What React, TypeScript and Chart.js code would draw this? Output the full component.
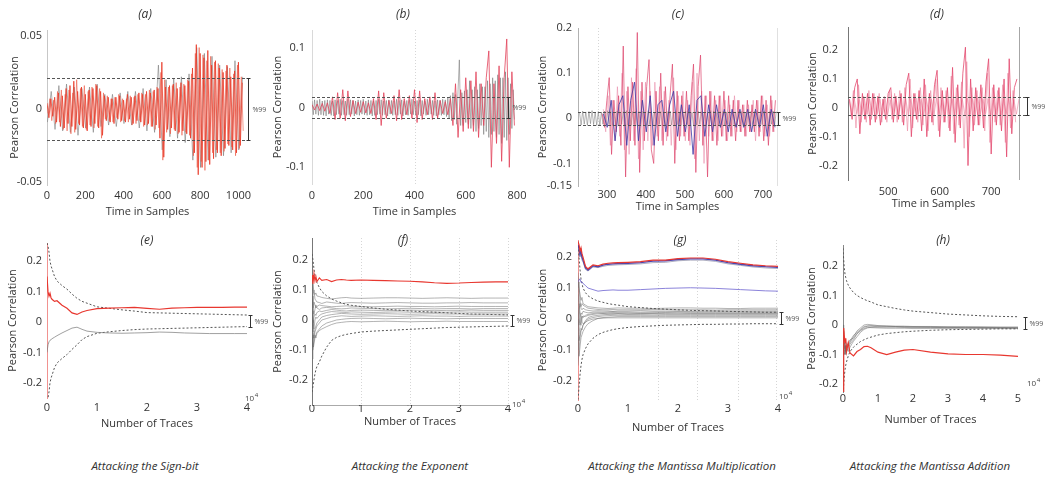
import React, { useEffect, useRef } from "react";
import { Chart, registerables } from "chart.js";

Chart.register(...registerables);
Chart.defaults.font.family = '"Open Sans", "DejaVu Sans", sans-serif';
Chart.defaults.font.size = 11;
Chart.defaults.color = "#333";

// ================= DATA =================
// (a) Sign-bit, time samples
const A_RED_START = 0, A_RED_STEP = 10;
const A_RED = [
  0.004, -0.006, 0.007, -0.005, 0.008, -0.009, 0.011, -0.012, 0.009, -0.013,
  0.014, -0.010, 0.016, -0.012, 0.019, -0.014, 0.012, -0.011, 0.015, -0.013,
  0.010, -0.015, 0.013, -0.012, 0.014, -0.010, 0.016, -0.013, 0.012, -0.018,
  0.009, -0.008, 0.008, -0.009, 0.007, -0.010, 0.008, -0.007, 0.009, -0.008,
  0.006, -0.009, 0.010, -0.007, 0.008, -0.010, 0.009, -0.008, 0.011, -0.009,
  0.010, -0.011, 0.012, -0.010, 0.011, -0.012, 0.013, -0.011, 0.014, -0.020,
  0.032, -0.033, 0.015, -0.014, 0.016, -0.013, 0.017, -0.015, 0.014, -0.016,
  0.018, -0.015, 0.016, -0.017, 0.019, -0.020, 0.028, -0.030, 0.044, -0.045,
  0.038, -0.040, 0.035, -0.036, 0.040, -0.038, 0.030, -0.034, 0.033, -0.030,
  0.028, -0.032, 0.025, -0.027, 0.030, -0.025, 0.022, -0.028, 0.026, -0.030,
  0.032, -0.025, 0.018,
];
const A_RED2_START = 5, A_RED2_STEP = 10;
const A_RED2 = [
  -0.003, 0.007, -0.008, 0.006, -0.010, 0.012, -0.009, 0.013, -0.014, 0.010,
  -0.015, 0.013, -0.017, 0.011, -0.016, 0.020, -0.010, 0.014, -0.012, 0.016,
  -0.014, 0.012, -0.011, 0.015, -0.013, 0.017, -0.012, 0.014, -0.020, 0.011,
  -0.007, 0.009, -0.008, 0.007, -0.009, 0.008, -0.006, 0.010, -0.009, 0.007,
  -0.008, 0.007, -0.009, 0.009, -0.011, 0.008, -0.010, 0.010, -0.008, 0.011,
  -0.012, 0.010, -0.011, 0.013, -0.012, 0.012, -0.014, 0.015, -0.013, 0.025,
  -0.035, 0.020, -0.016, 0.015, -0.017, 0.016, -0.014, 0.018, -0.017, 0.015,
  -0.018, 0.017, -0.016, 0.020, -0.018, 0.024, -0.032, 0.038, -0.040, 0.042,
  -0.036, 0.037, -0.042, 0.033, -0.035, 0.036, -0.030, 0.032, -0.028, 0.031,
  -0.030, 0.027, -0.029, 0.026, -0.024, 0.028, -0.026, 0.024, -0.032, 0.030,
  -0.027, 0.022, -0.015,
];
const A_GRAY_START = 2, A_GRAY_STEP = 20;
const A_GRAY = [
  -0.009, 0.012, -0.014, 0.016, -0.015, 0.017, -0.016, 0.015, -0.018, 0.014,
  -0.013, 0.015, -0.016, 0.017, -0.012, 0.010, -0.011, 0.010, -0.012, 0.011,
  -0.010, 0.012, -0.011, 0.012, -0.013, 0.014, -0.015, 0.014, -0.016, 0.030,
  -0.028, 0.020, -0.019, 0.021, -0.020, 0.022, -0.023, 0.024, -0.035, 0.042,
  -0.040, 0.038, -0.035, 0.036, -0.033, 0.030, -0.032, 0.029, -0.030, 0.033,
  -0.028, 0.022,
];
const A_THRESH = [0.021, -0.021];

// (b) Exponent
const B_RED_START = 0, B_RED_STEP = 10;
const B_RED = [
  0.005, -0.004, 0.006, -0.005, 0.007, -0.006, 0.008, -0.010, 0.018, -0.020,
  0.025, -0.018, 0.030, -0.022, 0.028, -0.015, 0.012, -0.010, 0.009, -0.008,
  0.010, -0.009, 0.008, -0.010, 0.015, -0.020, 0.028, -0.030, 0.025, -0.018,
  0.012, -0.010, 0.020, -0.022, 0.030, -0.020, 0.015, -0.012, 0.020, -0.018,
  0.030, -0.025, 0.028, -0.020, 0.015, -0.012, 0.018, -0.020, 0.025, -0.018,
  0.012, -0.010, 0.010, -0.012, 0.015, -0.030, 0.040, -0.050, 0.030, -0.040,
  0.050, -0.035, 0.045, -0.040, 0.060, -0.050, 0.040, -0.030, 0.050, 0.095,
  -0.100, 0.040, -0.060, 0.070, -0.090, 0.050, 0.115, -0.100, 0.060, -0.030,
];
const B_GRAY_START = 0, B_GRAY_STEP = 5;
const B_GRAY = [
  0.011, -0.012, 0.013, -0.011, 0.012, -0.013, 0.014, -0.012, 0.011, -0.013,
  0.012, -0.014, 0.013, -0.011, 0.012, -0.013, 0.011, -0.014, 0.013, -0.012,
  0.012, -0.011, 0.014, -0.013, 0.012, -0.012, 0.011, -0.013, 0.014, -0.012,
  0.013, -0.011, 0.012, -0.014, 0.011, -0.012, 0.013, -0.013, 0.012, -0.011,
  0.014, -0.012, 0.011, -0.013, 0.013, -0.012, 0.012, -0.014, 0.011, -0.013,
  0.012, -0.012, 0.014, -0.011, 0.013, -0.013, 0.011, -0.012, 0.012, -0.014,
  0.013, -0.011, 0.012, -0.013, 0.011, -0.012, 0.014, -0.013, 0.012, -0.011,
  0.013, -0.014, 0.011, -0.012, 0.012, -0.013, 0.013, -0.011, 0.014, -0.012,
  0.011, -0.013, 0.012, -0.012, 0.013, -0.014, 0.012, -0.011, 0.011, -0.013,
  0.014, -0.012, 0.013, -0.011, 0.012, -0.013, 0.011, -0.014, 0.013, -0.012,
  0.012, -0.013, 0.014, -0.012, 0.013, -0.015, 0.016, -0.018, 0.020, -0.022,
  0.025, -0.020, 0.022, -0.028, 0.030, 0.080, -0.030, 0.025, -0.030, 0.028,
  -0.025, 0.030, -0.028, 0.045, -0.035, 0.030, -0.030, 0.035, -0.040, 0.030,
  -0.035, 0.040, -0.030, 0.035, -0.045, 0.035, -0.040, 0.045, -0.050, 0.040,
  -0.045, 0.050, -0.040, 0.045, -0.050, 0.055, -0.045, 0.050, -0.060, 0.050,
  -0.050, 0.060, -0.055, 0.050, -0.045, 0.040, -0.035, 0.030, -0.020,
];
const B_THRESH = [0.017, -0.017];

// (c) Mantissa multiplication
const C_RED_START = 288, C_RED_STEP = 6;
const C_RED = [
  0.010, -0.020, 0.040, 0.090, -0.080, 0.040, -0.030, 0.050, -0.060, 0.160,
  -0.130, 0.070, -0.050, 0.080, -0.060, 0.190, -0.120, 0.080, -0.050, 0.070,
  0.130, -0.070, -0.100, 0.060, -0.050, 0.100, -0.060, 0.070, -0.040, 0.050,
  0.120, -0.100, 0.060, -0.050, 0.050, -0.040, 0.060, -0.050, 0.050, 0.120,
  -0.120, 0.070, 0.140, -0.060, 0.050, -0.130, 0.060, -0.050, 0.050, -0.060,
  0.050, -0.040, 0.060, -0.050, 0.050, -0.040, 0.040, -0.050, 0.040, -0.030,
  0.030, -0.040, 0.040, -0.030, 0.030, -0.030, 0.040, -0.040, 0.050, -0.050,
  0.040, -0.060, 0.050, -0.030, 0.040,
];
const C_PINK2_START = 291, C_PINK2_STEP = 6;
const C_PINK2 = [
  0.020, -0.030, 0.050, -0.060, 0.040, -0.050, 0.070, -0.040, 0.100, -0.070,
  0.060, -0.080, 0.090, -0.050, 0.110, -0.090, 0.060, -0.070, 0.080, -0.050,
  0.060, -0.060, 0.080, -0.040, 0.070, -0.050, 0.060, -0.050, 0.040, -0.060,
  0.090, -0.070, 0.050, -0.040, 0.060, -0.050, 0.040, -0.060, 0.080, -0.090,
  0.100, -0.050, 0.060, -0.100, 0.050, -0.040, 0.060, -0.050, 0.040, -0.050,
  0.050, -0.040, 0.040, -0.050, 0.030, -0.040, 0.050, -0.030, 0.040, -0.030,
  0.030, -0.040, 0.030, -0.030, 0.040, -0.050, 0.040, -0.030, 0.050, -0.040,
  0.030, -0.040, 0.040, -0.030,
];
const C_BLUE_START = 291, C_BLUE_STEP = 10;
const C_BLUE = [
  0.010, -0.020, 0.040, -0.050, 0.030, 0.050, -0.060, 0.040, 0.080, -0.050,
  0.040, -0.030, 0.050, -0.060, 0.030, 0.040, -0.030, 0.030, 0.060, -0.040,
  0.030, -0.030, 0.030, -0.080, 0.040, 0.050, -0.040, 0.030, -0.030, 0.030,
  -0.020, 0.020, -0.030, 0.020, -0.020, 0.020, -0.020, 0.020, -0.030, 0.020,
  -0.020, 0.030, -0.040, 0.020, -0.020,
];
const C_GRAY_START = 230, C_GRAY_STEP = 4;
const C_GRAY = [
  0.012, -0.015, 0.016, -0.013, 0.014, -0.016, 0.015, -0.012, 0.017, -0.014,
  0.013, -0.016, 0.015, -0.017, 0.014, -0.013, 0.016, -0.015, 0.017, -0.014,
  0.015, -0.016, 0.013, -0.015, 0.016, -0.017, 0.014, -0.013, 0.015, -0.016,
  0.017, -0.015, 0.014, -0.016, 0.015, -0.013, 0.016, -0.017, 0.015, -0.014,
  0.016, -0.015, 0.013, -0.016, 0.017, -0.014, 0.015, -0.016, 0.014, -0.015,
  0.016, -0.013, 0.015, -0.017, 0.014, -0.016, 0.015, -0.014, 0.016, -0.015,
  0.013, -0.016, 0.015, -0.014, 0.014, -0.016, 0.015, -0.013, 0.016, -0.014,
  0.017, -0.015, 0.013, -0.016, 0.014, -0.015, 0.016, -0.013, 0.015, -0.017,
  0.014, -0.016, 0.013, -0.015, 0.017, -0.014, 0.016, -0.015, 0.013, -0.016,
  0.015, -0.014, 0.015, -0.016, 0.014, -0.013, 0.017, -0.015, 0.016, -0.014,
  0.013, -0.015, 0.016, -0.014, 0.015, -0.017, 0.014, -0.016, 0.013, -0.015,
  0.016, -0.014, 0.015, -0.016, 0.017, -0.013, 0.015, -0.014, 0.016, -0.015,
  0.014, -0.016, 0.015, -0.013, 0.016, -0.014, 0.015,
];
const C_THRESH = [0.015, -0.015];

// (d) Mantissa addition
const D_RED_START = 425, D_RED_STEP = 5;
const D_RED = [
  0.030, -0.040, 0.070, 0.100, -0.090, 0.050, -0.040, 0.050, -0.060, 0.050,
  -0.050, 0.040, -0.060, 0.030, -0.040, 0.050, 0.070, -0.050, 0.040, -0.040,
  0.050, -0.060, 0.080, 0.120, -0.100, 0.050, -0.040, 0.060, -0.080, 0.100,
  -0.100, 0.050, -0.050, 0.080, 0.130, -0.100, 0.060, -0.050, 0.070, -0.080,
  0.140, -0.120, 0.080, -0.070, 0.120, 0.210, -0.200, 0.100, -0.080, 0.070,
  -0.060, 0.080, -0.070, 0.090, 0.170, -0.160, 0.080, -0.060, 0.070, -0.080,
  0.100, -0.170, 0.170, -0.090, 0.070, 0.100,
];
const D_RED2_START = 427.5, D_RED2_STEP = 5;
const D_RED2 = [
  -0.030, 0.060, -0.070, 0.080, -0.050, 0.040, -0.050, 0.060, -0.040, 0.050,
  -0.040, 0.050, -0.050, 0.040, -0.050, 0.060, -0.040, 0.050, -0.050, 0.060,
  -0.050, 0.070, -0.080, 0.100, -0.070, 0.050, -0.050, 0.070, -0.060, 0.080,
  -0.080, 0.060, -0.060, 0.100, -0.080, 0.070, -0.050, 0.060, -0.070, 0.110,
  -0.090, 0.070, -0.060, 0.090, -0.140, 0.160, -0.100, 0.070, -0.060, 0.060,
  -0.060, 0.070, -0.080, 0.120, -0.120, 0.070, -0.050, 0.060, -0.060, 0.080,
  -0.120, 0.120, -0.070, 0.060, -0.050,
];
const D_PINK_START = 424, D_PINK_STEP = 5;
const D_PINK = [
  0.030, -0.025, 0.035, -0.020, 0.028, -0.024, 0.032, -0.022, 0.030, -0.025,
  0.034, -0.020, 0.030, -0.023, 0.033, -0.024, 0.028, -0.022, 0.035, -0.025,
  0.030, -0.020, 0.032, -0.024, 0.030, -0.023, 0.034, -0.022, 0.030, -0.025,
  0.033, -0.021, 0.030, -0.024, 0.035, -0.020, 0.028, -0.025, 0.032, -0.022,
  0.030, -0.024, 0.034, -0.021, 0.029, -0.025, 0.033, -0.022, 0.031, -0.024,
  0.035, -0.023, 0.030, -0.021, 0.032, -0.025, 0.028, -0.022, 0.034, -0.024,
  0.030, -0.020, 0.033, -0.025, 0.029, -0.022, 0.031,
];
const D_THRESH = [0.037, -0.024];

// Bottom row: number of traces (x 10^4)
const XN = [0, 0.02, 0.04, 0.06, 0.08, 0.1, 0.15, 0.2, 0.3, 0.4, 0.5, 0.6, 0.7, 0.8, 1, 1.25, 1.5, 1.75, 2, 2.25, 2.5, 2.75, 3, 3.25, 3.5, 3.75, 4];

// (e)
const E_RED = [0.15, 0.1, 0.085, 0.095, 0.08, 0.075, 0.068, 0.07, 0.055, 0.045, 0.03, 0.025, 0.033, 0.038, 0.044, 0.046, 0.047, 0.048, 0.045, 0.042, 0.046, 0.047, 0.048, 0.048, 0.048, 0.049, 0.049];
const E_GRAY = [-0.1, -0.075, -0.065, -0.06, -0.058, -0.055, -0.05, -0.045, -0.036, -0.028, -0.02, -0.017, -0.024, -0.03, -0.034, -0.036, -0.037, -0.036, -0.035, -0.033, -0.034, -0.036, -0.037, -0.038, -0.038, -0.038, -0.038];
const E_UP = [0.26, 0.25, 0.23, 0.2, 0.185, 0.175, 0.15, 0.135, 0.12, 0.108, 0.092, 0.078, 0.068, 0.062, 0.05, 0.045, 0.04, 0.036, 0.031, 0.03, 0.029, 0.028, 0.027, 0.026, 0.025, 0.024, 0.023];
const E_LO = [-0.26, -0.25, -0.23, -0.2, -0.185, -0.175, -0.15, -0.135, -0.12, -0.107, -0.09, -0.075, -0.058, -0.048, -0.037, -0.032, -0.028, -0.025, -0.023, -0.022, -0.021, -0.02, -0.019, -0.018, -0.017, -0.016, -0.015];

// (f)
const F_RED = [0.15, 0.12, 0.155, 0.13, 0.145, 0.128, 0.14, 0.132, 0.135, 0.128, 0.133, 0.135, 0.133, 0.132, 0.133, 0.132, 0.131, 0.13, 0.129, 0.127, 0.124, 0.122, 0.123, 0.125, 0.126, 0.127, 0.127];
const F_UP = [0.22, 0.2, 0.17, 0.15, 0.135, 0.125, 0.108, 0.095, 0.08, 0.07, 0.063, 0.057, 0.052, 0.049, 0.045, 0.04, 0.036, 0.033, 0.03, 0.028, 0.026, 0.024, 0.022, 0.02, 0.019, 0.018, 0.017];
const F_LO = [-0.24, -0.22, -0.2, -0.18, -0.165, -0.155, -0.14, -0.12, -0.09, -0.068, -0.058, -0.052, -0.048, -0.045, -0.04, -0.037, -0.035, -0.033, -0.031, -0.029, -0.027, -0.025, -0.024, -0.023, -0.022, -0.021, -0.02];
const F_G1 = [0.1, 0.12, 0.09, 0.085, 0.09, 0.08, 0.078, 0.075, 0.072, 0.07, 0.072, 0.074, 0.075, 0.073, 0.072, 0.073, 0.074, 0.074, 0.073, 0.072, 0.073, 0.074, 0.073, 0.072, 0.073, 0.073, 0.073];
const F_G2 = [0.05, 0.08, 0.1, 0.07, 0.065, 0.06, 0.058, 0.055, 0.06, 0.058, 0.056, 0.055, 0.057, 0.058, 0.057, 0.056, 0.057, 0.058, 0.057, 0.056, 0.056, 0.057, 0.057, 0.058, 0.057, 0.057, 0.057];
const F_G3 = [-0.02, 0.03, 0.06, 0.05, 0.04, 0.045, 0.05, 0.048, 0.046, 0.044, 0.045, 0.046, 0.047, 0.046, 0.045, 0.044, 0.045, 0.046, 0.045, 0.045, 0.044, 0.045, 0.046, 0.045, 0.045, 0.045, 0.045];
const F_G4 = [0.08, 0.04, 0.02, 0.035, 0.05, 0.04, 0.035, 0.04, 0.042, 0.04, 0.038, 0.037, 0.038, 0.04, 0.039, 0.038, 0.037, 0.038, 0.039, 0.038, 0.037, 0.038, 0.038, 0.037, 0.038, 0.038, 0.038];
const F_G5 = [-0.06, -0.02, 0.01, 0.02, 0.015, 0.025, 0.03, 0.028, 0.032, 0.035, 0.033, 0.031, 0.03, 0.032, 0.033, 0.032, 0.031, 0.032, 0.033, 0.032, 0.031, 0.032, 0.032, 0.033, 0.032, 0.032, 0.032];
const F_G6 = [0.03, -0.01, -0.03, 0.0, 0.01, 0.005, 0.015, 0.02, 0.025, 0.028, 0.027, 0.026, 0.025, 0.027, 0.026, 0.025, 0.026, 0.027, 0.026, 0.025, 0.026, 0.026, 0.027, 0.026, 0.026, 0.026, 0.026];
const F_G7 = [-0.1, -0.07, -0.05, -0.03, -0.02, -0.01, 0.0, 0.01, 0.015, 0.018, 0.02, 0.022, 0.021, 0.02, 0.019, 0.02, 0.021, 0.02, 0.019, 0.02, 0.021, 0.02, 0.02, 0.019, 0.02, 0.02, 0.02];
const F_G8 = [0.0, -0.04, -0.06, -0.04, -0.03, -0.02, -0.01, 0.0, 0.005, 0.01, 0.012, 0.014, 0.013, 0.012, 0.013, 0.014, 0.013, 0.012, 0.013, 0.014, 0.013, 0.013, 0.012, 0.013, 0.013, 0.013, 0.013];
const F_G9 = [-0.13, -0.1, -0.08, -0.06, -0.05, -0.04, -0.03, -0.02, -0.01, -0.005, 0.0, 0.002, 0.004, 0.005, 0.006, 0.005, 0.004, 0.005, 0.006, 0.005, 0.005, 0.004, 0.005, 0.005, 0.005, 0.005, 0.005];
const F_G10 = [-0.05, -0.09, -0.07, -0.05, -0.06, -0.045, -0.035, -0.03, -0.022, -0.015, -0.01, -0.008, -0.006, -0.005, -0.006, -0.005, -0.004, -0.005, -0.006, -0.005, -0.005, -0.004, -0.005, -0.005, -0.005, -0.005, -0.005];

// (g)
const G_RED = [0.25, 0.24, 0.22, 0.23, 0.21, 0.2, 0.17, 0.162, 0.175, 0.172, 0.177, 0.18, 0.181, 0.182, 0.183, 0.185, 0.19, 0.19, 0.195, 0.197, 0.197, 0.193, 0.185, 0.18, 0.175, 0.172, 0.17];
const G_BLUE1 = [0.24, 0.23, 0.21, 0.22, 0.2, 0.19, 0.165, 0.158, 0.172, 0.169, 0.174, 0.177, 0.178, 0.179, 0.18, 0.182, 0.187, 0.188, 0.192, 0.194, 0.194, 0.19, 0.182, 0.177, 0.172, 0.169, 0.167];
const G_GRAYTOP = [0.23, 0.22, 0.2, 0.21, 0.19, 0.185, 0.16, 0.155, 0.168, 0.166, 0.17, 0.173, 0.174, 0.175, 0.176, 0.178, 0.182, 0.183, 0.188, 0.19, 0.19, 0.186, 0.178, 0.173, 0.168, 0.165, 0.163];
const G_BLUE2 = [0.12, 0.125, 0.13, 0.118, 0.12, 0.115, 0.108, 0.1, 0.095, 0.09, 0.092, 0.093, 0.094, 0.093, 0.093, 0.095, 0.097, 0.099, 0.1, 0.101, 0.1, 0.099, 0.097, 0.095, 0.093, 0.091, 0.09];
const G_UP = [0.25, 0.2, 0.16, 0.13, 0.115, 0.1, 0.085, 0.075, 0.065, 0.058, 0.054, 0.05, 0.047, 0.045, 0.04, 0.037, 0.034, 0.032, 0.03, 0.028, 0.027, 0.026, 0.025, 0.024, 0.023, 0.022, 0.022];
const G_LO = [-0.26, -0.22, -0.18, -0.15, -0.13, -0.115, -0.095, -0.08, -0.062, -0.05, -0.043, -0.038, -0.034, -0.031, -0.027, -0.024, -0.022, -0.02, -0.019, -0.018, -0.017, -0.017, -0.016, -0.016, -0.015, -0.015, -0.015];
const G_G1 = [0.15, 0.1, 0.08, 0.06, 0.07, 0.05, 0.045, 0.04, 0.038, 0.036, 0.035, 0.034, 0.035, 0.036, 0.035, 0.035, 0.034, 0.035, 0.036, 0.036, 0.035, 0.035, 0.034, 0.034, 0.035, 0.035, 0.035];
const G_G2 = [0.1, 0.12, 0.06, 0.04, 0.05, 0.045, 0.04, 0.035, 0.033, 0.031, 0.03, 0.03, 0.031, 0.03, 0.03, 0.03, 0.031, 0.031, 0.03, 0.03, 0.03, 0.029, 0.03, 0.03, 0.03, 0.03, 0.03];
const G_G3 = [-0.05, 0.03, 0.05, 0.035, 0.03, 0.035, 0.03, 0.028, 0.026, 0.027, 0.026, 0.026, 0.025, 0.026, 0.026, 0.027, 0.026, 0.026, 0.026, 0.025, 0.026, 0.026, 0.026, 0.026, 0.026, 0.026, 0.026];
const G_G4 = [0.05, -0.02, 0.0, 0.02, 0.015, 0.025, 0.022, 0.02, 0.022, 0.023, 0.022, 0.023, 0.024, 0.023, 0.023, 0.022, 0.023, 0.023, 0.024, 0.023, 0.023, 0.023, 0.023, 0.023, 0.023, 0.023, 0.023];
const G_G5 = [-0.1, -0.05, -0.02, 0.0, 0.01, 0.005, 0.012, 0.015, 0.018, 0.02, 0.019, 0.02, 0.021, 0.02, 0.02, 0.019, 0.02, 0.021, 0.02, 0.02, 0.02, 0.02, 0.02, 0.02, 0.02, 0.02, 0.02];
const G_G6 = [0.08, 0.04, -0.01, -0.02, 0.0, 0.01, 0.008, 0.012, 0.015, 0.017, 0.018, 0.017, 0.018, 0.018, 0.017, 0.018, 0.018, 0.018, 0.019, 0.018, 0.018, 0.018, 0.018, 0.018, 0.018, 0.018, 0.018];
const G_G7 = [-0.15, -0.1, -0.06, -0.04, -0.03, -0.02, -0.005, 0.005, 0.01, 0.012, 0.014, 0.015, 0.015, 0.016, 0.015, 0.015, 0.016, 0.015, 0.015, 0.015, 0.015, 0.015, 0.015, 0.015, 0.015, 0.015, 0.015];
const G_G8 = [0.0, -0.07, -0.05, -0.03, -0.035, -0.02, -0.01, 0.0, 0.005, 0.008, 0.01, 0.011, 0.012, 0.012, 0.012, 0.012, 0.012, 0.012, 0.012, 0.012, 0.012, 0.012, 0.012, 0.012, 0.012, 0.012, 0.012];
const G_G9 = [-0.05, -0.12, -0.09, -0.06, -0.05, -0.04, -0.025, -0.015, -0.005, 0.002, 0.005, 0.006, 0.007, 0.008, 0.008, 0.008, 0.008, 0.008, 0.008, 0.008, 0.008, 0.008, 0.008, 0.008, 0.008, 0.008, 0.008];
const G_G10 = [0.12, 0.06, 0.02, 0.01, -0.01, -0.015, -0.01, -0.005, 0.0, 0.002, 0.003, 0.004, 0.004, 0.004, 0.004, 0.004, 0.004, 0.004, 0.004, 0.004, 0.004, 0.004, 0.004, 0.004, 0.004, 0.004, 0.004];

// (h)
const XH = [0, 0.02, 0.04, 0.06, 0.08, 0.1, 0.15, 0.2, 0.3, 0.4, 0.5, 0.6, 0.7, 0.8, 1, 1.25, 1.5, 1.75, 2, 2.5, 3, 3.5, 4, 4.5, 5];
const H_RED = [-0.24, -0.01, -0.04, -0.06, -0.045, -0.09, -0.06, -0.095, -0.105, -0.09, -0.083, -0.073, -0.072, -0.077, -0.092, -0.1, -0.092, -0.085, -0.083, -0.092, -0.098, -0.1, -0.1, -0.102, -0.106];
const H_UP = [0.26, 0.22, 0.19, 0.17, 0.16, 0.15, 0.135, 0.125, 0.11, 0.1, 0.093, 0.087, 0.082, 0.078, 0.068, 0.062, 0.056, 0.051, 0.047, 0.042, 0.037, 0.034, 0.031, 0.029, 0.028];
const H_LO = [-0.26, -0.2, -0.17, -0.15, -0.135, -0.125, -0.105, -0.09, -0.075, -0.065, -0.056, -0.05, -0.045, -0.041, -0.034, -0.029, -0.026, -0.023, -0.021, -0.018, -0.016, -0.015, -0.014, -0.013, -0.013];
const H_G1 = [-0.02, -0.05, -0.08, -0.07, -0.09, -0.08, -0.07, -0.06, -0.04, -0.02, -0.01, 0.0, 0.002, 0.001, -0.002, -0.003, -0.004, -0.004, -0.005, -0.005, -0.006, -0.006, -0.006, -0.007, -0.007];
const H_G2 = [-0.06, -0.09, -0.1, -0.085, -0.075, -0.07, -0.065, -0.055, -0.035, -0.025, -0.015, -0.005, -0.003, -0.004, -0.006, -0.007, -0.007, -0.008, -0.008, -0.008, -0.009, -0.009, -0.009, -0.01, -0.01];
const H_G3 = [-0.1, -0.07, -0.06, -0.08, -0.1, -0.09, -0.08, -0.065, -0.05, -0.03, -0.02, -0.012, -0.008, -0.009, -0.01, -0.011, -0.011, -0.011, -0.012, -0.012, -0.012, -0.012, -0.012, -0.012, -0.012];
const H_G4 = [0.0, -0.03, -0.06, -0.08, -0.06, -0.07, -0.09, -0.075, -0.055, -0.04, -0.025, -0.015, -0.01, -0.008, -0.007, -0.006, -0.006, -0.007, -0.007, -0.008, -0.008, -0.009, -0.009, -0.009, -0.01];
const H_G5 = [-0.08, -0.1, -0.09, -0.07, -0.08, -0.075, -0.06, -0.05, -0.045, -0.028, -0.018, -0.008, -0.004, -0.002, -0.003, -0.004, -0.005, -0.005, -0.006, -0.006, -0.007, -0.007, -0.008, -0.008, -0.008];

const CAPTIONS = ["Attacking the Sign-bit", "Attacking the Exponent", "Attacking the Mantissa Multiplication", "Attacking the Mantissa Addition"];

// ================= HELPERS =================
type Pt = { x: number; y: number };
const seq = (start: number, step: number, ys: number[]): Pt[] => ys.map((y, i) => ({ x: start + i * step, y }));
const zip = (xs: number[], ys: number[]): Pt[] => ys.map((y, i) => ({ x: xs[i], y }));
const last = (a: number[]) => a[a.length - 1];

const ds = (data: Pt[], color: string, width = 1, dash: number[] = []) => ({
  data, borderColor: color, borderWidth: width, borderDash: dash, pointRadius: 0, fill: false, tension: 0,
});

const COL_RED_A = "rgba(232,58,40,0.8)";
const COL_RED_A2 = "rgba(236,90,70,0.6)";
const COL_GRAY = "rgba(115,115,115,0.55)";
const COL_GRAY_B = "rgba(105,105,105,0.5)";
const COL_RED_B = "rgba(226,66,90,0.8)";
const COL_PINK_C = "rgba(222,70,110,0.72)";
const COL_PINK_C2 = "rgba(232,125,160,0.5)";
const COL_BLUE_C = "rgba(60,55,165,0.8)";
const COL_GRAY_C = "rgba(100,100,100,0.45)";
const COL_PINK_D = "rgba(228,72,110,0.8)";
const COL_PINK_D2 = "rgba(236,140,165,0.65)";
const COL_PINK_D3 = "rgba(236,150,172,0.7)";
const COL_RED = "#e8372f";
const COL_BLUE = "rgba(55,50,170,0.9)";
const COL_BLUE_L = "rgba(100,90,205,0.75)";
const COL_DASH = "#555";
const COL_GL = "rgba(105,105,105,0.5)";
const DASH = [2, 2];

const TIME = "Time in Samples";
const TRACES = "Number of Traces";
const YT = "Pearson Correlation";

interface PanelSpec {
  key: string; label: string; labelX: number; labelY: number;
  L: number; R: number; T: number; B: number;
  xMin: number; xMax: number; yMin: number; yMax: number;
  xTicks: number[]; yTicks: number[]; xTitle: string;
  yTitleX: number; xTickY: number; xTitleY: number; yTickRight: number;
  datasets: any[];
  thresh?: number[]; bracket: number[]; bracketDx: number;
  exp?: number[]; yBorder: string; yDash?: number[]; xBorder?: string; rightFrame?: string;
  grid?: number[];
}

const PANELS: PanelSpec[] = [
  {
    key: "a", label: "(a)", labelX: 145, labelY: 14, L: 47, R: 248, T: 30, B: 185,
    xMin: 0, xMax: 1050, yMin: -0.052, yMax: 0.054, xTicks: [0, 200, 400, 600, 800, 1000], yTicks: [-0.05, 0, 0.05],
    xTitle: TIME, yTitleX: 15, xTickY: 196, xTitleY: 211, yTickRight: 42,
    datasets: [
      ds(seq(A_RED_START, A_RED_STEP, A_RED), COL_RED_A),
      ds(seq(A_RED2_START, A_RED2_STEP, A_RED2), COL_RED_A2),
      ds(seq(A_GRAY_START, A_GRAY_STEP, A_GRAY), COL_GRAY),
    ],
    thresh: A_THRESH, bracket: A_THRESH, bracketDx: 0, yBorder: "rgba(0,0,0,0.22)",
  },
  {
    key: "b", label: "(b)", labelX: 403, labelY: 14, L: 312, R: 517, T: 30, B: 184,
    xMin: 0, xMax: 800, yMin: -0.128, yMax: 0.13, xTicks: [0, 200, 400, 600, 800], yTicks: [-0.1, 0, 0.1],
    xTitle: TIME, yTitleX: 278, xTickY: 196, xTitleY: 211, yTickRight: 305,
    datasets: [
      ds(seq(B_RED_START, B_RED_STEP, B_RED), COL_RED_B),
      ds(seq(B_GRAY_START, B_GRAY_STEP, B_GRAY), COL_GRAY_B),
    ],
    thresh: B_THRESH, bracket: B_THRESH, bracketDx: -9, yBorder: "rgba(0,0,0,0.15)", grid: [400],
  },
  {
    key: "c", label: "(c)", labelX: 678, labelY: 14, L: 578, R: 777, T: 28, B: 186,
    xMin: 226, xMax: 736, yMin: -0.15, yMax: 0.2, xTicks: [300, 400, 500, 600, 700], yTicks: [-0.15, -0.1, 0, 0.1, 0.2],
    xTitle: TIME, yTitleX: 543, xTickY: 195, xTitleY: 206, yTickRight: 572,
    datasets: [
      ds(seq(C_BLUE_START, C_BLUE_STEP, C_BLUE), COL_BLUE_C),
      ds(seq(C_RED_START, C_RED_STEP, C_RED), COL_PINK_C),
      ds(seq(C_PINK2_START, C_PINK2_STEP, C_PINK2), COL_PINK_C2),
      ds(seq(C_GRAY_START, C_GRAY_STEP, C_GRAY), COL_GRAY_C),
    ],
    thresh: C_THRESH, bracket: C_THRESH, bracketDx: 1, yBorder: "rgba(0,0,0,0.3)", rightFrame: "rgba(0,0,0,0.12)", grid: [276],
  },
  {
    key: "d", label: "(d)", labelX: 937, labelY: 14, L: 848, R: 1019, T: 27, B: 180,
    xMin: 422, xMax: 754, yMin: -0.25, yMax: 0.28, xTicks: [500, 600, 700], yTicks: [-0.2, -0.1, 0, 0.1, 0.2],
    xTitle: TIME, yTitleX: 813, xTickY: 192, xTitleY: 203, yTickRight: 838,
    datasets: [
      ds(seq(D_RED_START, D_RED_STEP, D_RED), COL_PINK_D),
      ds(seq(D_RED2_START, D_RED2_STEP, D_RED2), COL_PINK_D2),
      ds(seq(D_PINK_START, D_PINK_STEP, D_PINK), COL_PINK_D3),
    ],
    thresh: D_THRESH, bracket: D_THRESH, bracketDx: 8, yBorder: "#777", rightFrame: "rgba(0,0,0,0.35)",
  },
  {
    key: "e", label: "(e)", labelX: 147, labelY: 240, L: 47, R: 247, T: 243, B: 398,
    xMin: 0, xMax: 4, yMin: -0.25, yMax: 0.26, xTicks: [0, 1, 2, 3, 4], yTicks: [-0.2, -0.1, 0, 0.1, 0.2],
    xTitle: TRACES, yTitleX: 13, xTickY: 408, xTitleY: 423, yTickRight: 42,
    datasets: [
      ds(zip(XN, E_RED), COL_RED, 1.2),
      ds(zip(XN, E_GRAY), "rgba(120,120,120,0.7)"),
      ds(zip(XN, E_UP), COL_DASH, 1, DASH),
      ds(zip(XN, E_LO), COL_DASH, 1, DASH),
    ],
    bracket: [last(E_UP), last(E_LO)], bracketDx: 3, exp: [-2, 3], yBorder: "rgba(229,57,53,0.55)",
  },
  {
    key: "f", label: "(f)", labelX: 403, labelY: 240, L: 312, R: 508, T: 238, B: 405,
    xMin: 0, xMax: 4, yMin: -0.283, yMax: 0.273, xTicks: [0, 1, 2, 3, 4], yTicks: [-0.2, -0.1, 0, 0.1, 0.2],
    xTitle: TRACES, yTitleX: 278, xTickY: 409, xTitleY: 421, yTickRight: 308,
    datasets: [
      ds(zip(XN, F_RED), COL_RED, 1.1),
      ds(zip(XN, F_UP), COL_DASH, 1, DASH),
      ds(zip(XN, F_LO), COL_DASH, 1, DASH),
      ...[F_G1, F_G2, F_G3, F_G4, F_G5, F_G6, F_G7, F_G8, F_G9, F_G10].map((g) => ds(zip(XN, g), COL_GL)),
    ],
    bracket: [last(F_UP), last(F_LO)], bracketDx: 4, exp: [4, 2], yBorder: "#777", yDash: [1, 1], xBorder: "#aaa", grid: [1, 2, 3, 4],
  },
  {
    key: "g", label: "(g)", labelX: 680, labelY: 240, L: 578, R: 778, T: 240, B: 400,
    xMin: 0, xMax: 4, yMin: -0.261, yMax: 0.255, xTicks: [0, 1, 2, 3, 4], yTicks: [-0.2, -0.1, 0, 0.1, 0.2],
    xTitle: TRACES, yTitleX: 543, xTickY: 409, xTitleY: 427, yTickRight: 572,
    datasets: [
      ds(zip(XN, G_RED), COL_RED, 1.2),
      ds(zip(XN, G_BLUE1), COL_BLUE, 1.4),
      ds(zip(XN, G_GRAYTOP), "rgba(120,120,150,0.6)"),
      ds(zip(XN, G_BLUE2), COL_BLUE_L),
      ds(zip(XN, G_UP), COL_DASH, 1, DASH),
      ds(zip(XN, G_LO), COL_DASH, 1, DASH),
      ...[G_G1, G_G2, G_G3, G_G4, G_G5, G_G6, G_G7, G_G8, G_G9, G_G10].map((g) => ds(zip(XN, g), COL_GL)),
    ],
    bracket: [last(G_UP), last(G_LO)], bracketDx: 3, exp: [1, -1], yBorder: "rgba(229,57,53,0.55)", grid: [1.6, 2.38, 3.2, 3.95],
  },
  {
    key: "h", label: "(h)", labelX: 943, labelY: 240, L: 843, R: 1018, T: 245, B: 392,
    xMin: 0, xMax: 5, yMin: -0.227, yMax: 0.271, xTicks: [0, 1, 2, 3, 4, 5], yTicks: [-0.2, -0.1, 0, 0.1, 0.2],
    xTitle: TRACES, yTitleX: 812, xTickY: 399, xTitleY: 419, yTickRight: 838,
    datasets: [
      ds(zip(XH, H_RED), COL_RED, 1.2),
      ds(zip(XH, H_UP), COL_DASH, 1, DASH),
      ds(zip(XH, H_LO), COL_DASH, 1, DASH),
      ...[H_G1, H_G2, H_G3, H_G4, H_G5].map((g) => ds(zip(XH, g), COL_GL)),
    ],
    bracket: [last(H_UP), last(H_LO)], bracketDx: 7, exp: [9, -6], yBorder: "#888", yDash: [1, 1],
  },
];

// ================= CHART =================
function makeOverlay(sp: PanelSpec) {
  return {
    id: "overlay_" + sp.key,
    beforeDatasetsDraw(chart: any) {
      const { ctx, chartArea: a, scales } = chart;
      ctx.save();
      ctx.lineWidth = 1;
      if (sp.grid) {
        ctx.strokeStyle = "rgba(0,0,0,0.16)";
        ctx.setLineDash([1, 2]);
        for (const v of sp.grid) {
          const px = Math.round(scales.x.getPixelForValue(v)) + 0.5;
          ctx.beginPath(); ctx.moveTo(px, a.top); ctx.lineTo(px, a.bottom); ctx.stroke();
        }
      }
      if (sp.rightFrame) {
        ctx.setLineDash([]);
        ctx.strokeStyle = sp.rightFrame;
        const px = Math.round(a.right) + 0.5;
        ctx.beginPath(); ctx.moveTo(px, a.top); ctx.lineTo(px, a.bottom); ctx.stroke();
      }
      ctx.restore();
    },
    afterDatasetsDraw(chart: any) {
      const { ctx, chartArea: a, scales } = chart;
      const ys = scales.y;
      const bx = Math.round(a.right + sp.bracketDx) + 0.5;
      ctx.save();
      ctx.lineWidth = 1;
      if (sp.thresh) {
        ctx.strokeStyle = "#555";
        ctx.setLineDash([3, 2]);
        for (const t of sp.thresh) {
          const py = Math.round(ys.getPixelForValue(t)) + 0.5;
          ctx.beginPath(); ctx.moveTo(a.left, py); ctx.lineTo(bx, py); ctx.stroke();
        }
      }
      const hi = Math.round(ys.getPixelForValue(sp.bracket[0])) + 0.5;
      const lo = Math.round(ys.getPixelForValue(sp.bracket[1])) + 0.5;
      ctx.setLineDash([]);
      ctx.strokeStyle = "#333";
      ctx.beginPath();
      ctx.moveTo(bx, hi); ctx.lineTo(bx, lo);
      ctx.moveTo(bx - 2, hi); ctx.lineTo(bx + 2, hi);
      ctx.moveTo(bx - 2, lo); ctx.lineTo(bx + 2, lo);
      ctx.stroke();
      ctx.fillStyle = "#555";
      ctx.font = '7px "Open Sans", sans-serif';
      ctx.textBaseline = "middle";
      ctx.textAlign = "left";
      ctx.fillText("%99", bx + 4, (hi + lo) / 2);
      if (sp.exp) {
        const ex = a.right + sp.exp[0];
        const ey = a.bottom + sp.exp[1];
        ctx.fillStyle = "#444";
        ctx.textBaseline = "alphabetic";
        ctx.font = '8px "Open Sans", sans-serif';
        ctx.fillText("10", ex, ey);
        const w = ctx.measureText("10").width;
        ctx.font = '6px "Open Sans", sans-serif';
        ctx.fillText("4", ex + w + 0.5, ey - 4);
      }
      ctx.restore();
    },
  };
}

function Panel({ spec }: { spec: PanelSpec }) {
  const ref = useRef<HTMLCanvasElement>(null);
  const PAD_TOP = 12;
  const PAD_RIGHT = 26;
  const CL = Math.round(spec.yTitleX - 6.6);
  const CT = spec.T - PAD_TOP;
  const CB = Math.round(spec.xTitleY + 6.6);
  const W = spec.R + PAD_RIGHT - CL;
  const H = CB - CT;
  const yW = spec.L - CL;
  const xH = CB - spec.B;

  useEffect(() => {
    const canvas = ref.current;
    if (!canvas) return;
    const chart = new Chart(canvas, {
      type: "line",
      data: { datasets: spec.datasets },
      options: {
        responsive: false,
        animation: false,
        devicePixelRatio: 1,
        layout: { padding: { left: 0, top: PAD_TOP, right: PAD_RIGHT, bottom: 0 } },
        plugins: { legend: { display: false }, tooltip: { enabled: false } },
        elements: { point: { radius: 0 }, line: { borderWidth: 1, tension: 0 } },
        scales: {
          x: {
            type: "linear",
            min: spec.xMin,
            max: spec.xMax,
            afterBuildTicks: (s: any) => { s.ticks = spec.xTicks.map((v) => ({ value: v })); },
            afterFit: (s: any) => { s.height = xH; s.paddingLeft = 0; s.paddingRight = 0; },
            grid: { display: false, drawTicks: false },
            border: { display: !!spec.xBorder, color: spec.xBorder || "transparent" },
            ticks: {
              padding: spec.xTickY - spec.B - 6.6,
              autoSkip: false, maxRotation: 0, color: "#333",
              font: { size: 11 },
              callback: (v: any) => String(v),
            },
            title: { display: true, text: spec.xTitle, padding: 0, color: "#333", font: { size: 11 } },
          },
          y: {
            type: "linear",
            min: spec.yMin,
            max: spec.yMax,
            afterBuildTicks: (s: any) => { s.ticks = spec.yTicks.map((v) => ({ value: v })); },
            afterFit: (s: any) => { s.width = yW; s.paddingTop = 0; s.paddingBottom = 0; },
            grid: { display: false, drawTicks: false },
            border: { display: true, color: spec.yBorder, dash: spec.yDash || [] },
            ticks: {
              padding: spec.L - spec.yTickRight,
              color: "#333",
              font: { size: 11 },
              callback: (v: any) => String(v),
            },
            title: { display: true, text: YT, padding: 0, color: "#333", font: { size: 11 } },
          },
        },
      } as any,
      plugins: [makeOverlay(spec)],
    });
    return () => chart.destroy();
  }, []);

  return (
    <canvas
      ref={ref}
      width={W}
      height={H}
      style={{ position: "absolute", left: CL, top: CT, width: W, height: H }}
    />
  );
}

const CAPTION_X = [145, 410, 682, 930];

export default function App() {
  return (
    <div style={{ position: "absolute", left: 0, top: 0, width: 1046, height: 480, background: "#fff", fontFamily: '"Open Sans", sans-serif', overflow: "hidden" }}>
      {PANELS.map((p) => <Panel key={p.key} spec={p} />)}
      {PANELS.map((p) => (
        <div key={"t" + p.key} style={{ position: "absolute", left: p.labelX, top: p.labelY, transform: "translate(-50%,-50%)", fontStyle: "italic", fontSize: 12, color: "#333", whiteSpace: "nowrap", lineHeight: 1 }}>
          {p.label}
        </div>
      ))}
      {CAPTIONS.map((c, i) => (
        <div key={"c" + i} style={{ position: "absolute", left: CAPTION_X[i], top: 466, transform: "translate(-50%,-50%)", fontStyle: "italic", fontSize: 11.5, color: "#333", whiteSpace: "nowrap", lineHeight: 1 }}>
          {c}
        </div>
      ))}
    </div>
  );
}
